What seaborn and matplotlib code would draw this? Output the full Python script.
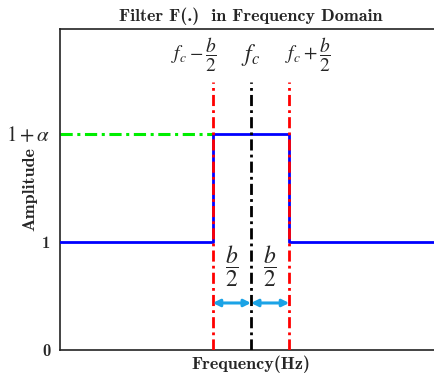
import numpy as np
import pandas as pd
import matplotlib
matplotlib.use("Agg")
import matplotlib.pyplot as plt
import seaborn as sns

# Ideal band-pass response: centre fc, bandwidth b, gain 1+alpha in band
fc = 5.0
half_b = 1.0
gain_in_band = 2.0
gain_out_band = 1.0
x_max = 10.0

resp_freq = [0.0, fc - half_b, fc - half_b, fc + half_b, fc + half_b, x_max]
resp_amp = [gain_out_band, gain_out_band, gain_in_band, gain_in_band, gain_out_band, gain_out_band]

ytick_vals = [0, 1, 2]
ytick_labels = ["0", "1", r"$1+\alpha$"]

sns.set_style("white")
plt.rcParams["font.family"] = ["Liberation Serif", "DejaVu Serif"]
plt.rcParams["mathtext.fontset"] = "stix"
plt.rcParams["axes.unicode_minus"] = False

BOLD_CM = "cmb10"  # Computer Modern bold shipped with matplotlib

fig = plt.figure(figsize=(4.35, 3.77), dpi=100)
ax = fig.add_axes([60 / 435, 27 / 377, 382 / 435, 321 / 377])

df = pd.DataFrame({"Frequency": resp_freq, "Amplitude": resp_amp})
sns.lineplot(data=df, x="Frequency", y="Amplitude", sort=False, estimator=None,
             color="#0000FF", lw=2.0, ax=ax, zorder=3)

# In-band gain reference level
ax.plot([0, fc - half_b], [gain_in_band, gain_in_band], color="#00EE00", lw=2.2,
        ls=(0, (4, 1.5, 1, 1.5)), zorder=2)

# Band edges and centre frequency
marker_top = 2.48
for xv, col in [(fc - half_b, "#FF0000"), (fc + half_b, "#FF0000"), (fc, "black")]:
    ax.plot([xv, xv], [0, marker_top], color=col, lw=2.0, ls=(0, (4, 1.5, 1, 1.5)), zorder=4)

# Half-bandwidth arrows
arrow_y = 0.435
for x0, x1 in [(fc - half_b, fc), (fc, fc + half_b)]:
    ax.annotate("", xy=(x1, arrow_y), xytext=(x0, arrow_y),
                arrowprops=dict(arrowstyle="<|-|>", color="#1BA3E6", lw=2.2,
                                mutation_scale=10, shrinkA=0, shrinkB=0), zorder=5)
    ax.text((x0 + x1) / 2, 0.77, r"$\dfrac{b}{2}$", ha="center", va="center", fontsize=17)

ax.text(fc - half_b - 0.5, 2.73, r"$f_c - \dfrac{b}{2}$", ha="center", va="center", fontsize=14)
ax.text(fc, 2.73, r"$f_c$", ha="center", va="center", fontsize=17)
ax.text(fc + half_b + 0.5, 2.73, r"$f_c + \dfrac{b}{2}$", ha="center", va="center", fontsize=14)

ax.set_xlim(0, x_max)
ax.set_ylim(0, 2.97)
ax.set_xticks([])
ax.set_yticks(ytick_vals)
ax.set_yticklabels(ytick_labels)
for lab, fs in zip(ax.get_yticklabels(), [12, 12, 15]):
    lab.set_fontsize(fs)
    if fs == 12:
        lab.set_family(BOLD_CM)
ax.tick_params(axis="y", length=0, pad=7)

ax.set_xlabel("Frequency(Hz)", fontsize=13, labelpad=4, family=BOLD_CM)
ax.set_ylabel("Amplitude", fontsize=13, family=BOLD_CM)
ax.yaxis.set_label_coords(-23 / 382, 0.5)
ax.set_title("Filter F(.)  in Frequency Domain", fontsize=13, pad=6, family=BOLD_CM)

for side in ["left", "bottom", "top", "right"]:
    ax.spines[side].set_color("#222222")
    ax.spines[side].set_linewidth(1.2)

fig.savefig("out.png", dpi=100)
